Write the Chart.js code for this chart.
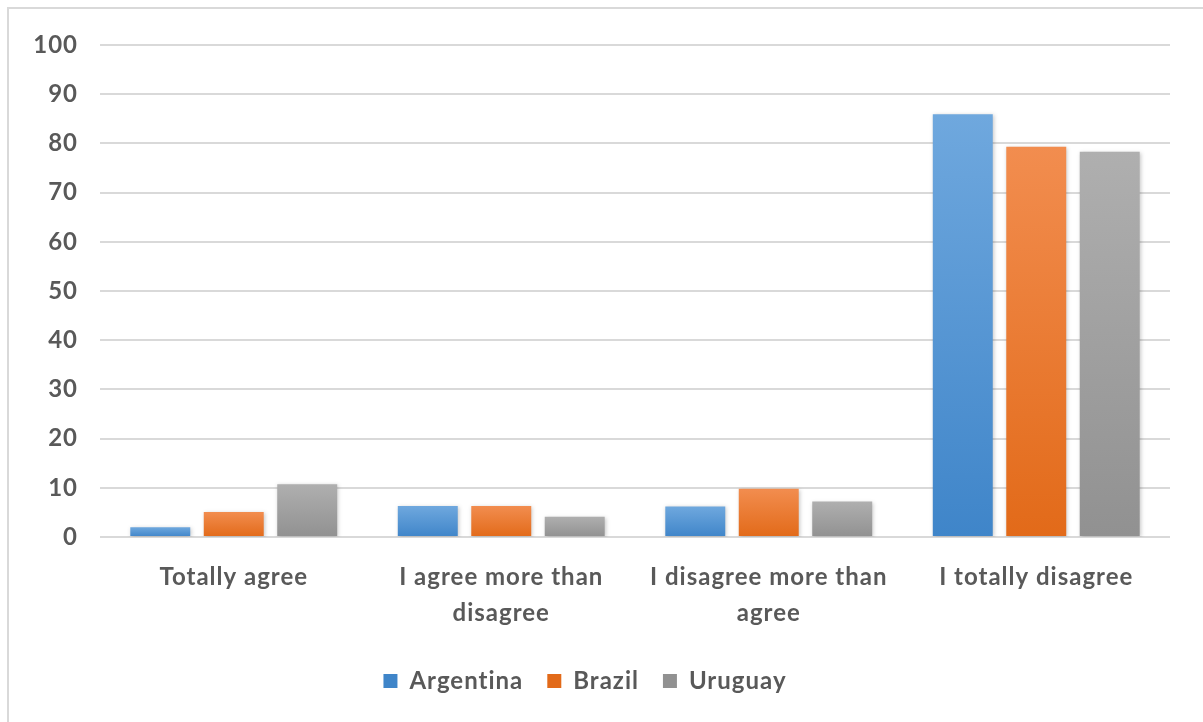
<!DOCTYPE html>
<html>
<head>
<meta charset="utf-8">
<script src="https://cdn.jsdelivr.net/npm/chart.js@4/dist/chart.umd.min.js"></script>
<style>
  html, body { margin: 0; padding: 0; background: #fff; overflow: hidden; }
  #frame { position: absolute; left: 7px; top: 7px; width: 1400px; height: 900px; border: 2px solid #d9d9d9; }
  #wrap { position: absolute; left: 0; top: 0; width: 1203px; height: 722px; }
</style>
</head>
<body>
<div id="frame"></div>
<div id="wrap"><canvas id="opinionChart" width="1203" height="722"></canvas></div>
<script>
const categories = [
  'Totally agree',
  ['I agree more than', 'disagree'],
  ['I disagree more than', 'agree'],
  'I totally disagree'
];
const argentina = [2, 6.3, 6.2, 85.9];
const brazil = [5.1, 6.3, 9.8, 79.3];
const uruguay = [10.7, 4.1, 7.2, 78.3];

const FONT = 'Lato, "Open Sans", sans-serif';
const TEXT = '#595959';

// vertical gradient per bar, like the Excel look
function barFill(top, bottom, flat) {
  return function(ctx) {
    const chart = ctx.chart;
    const y = chart.scales.y;
    if (ctx.type !== 'data' || !y) return flat;
    const y0 = y.getPixelForValue(ctx.raw);
    const y1 = y.getPixelForValue(0);
    if (!isFinite(y0) || !isFinite(y1) || y0 === y1) return flat;
    const g = chart.ctx.createLinearGradient(0, y0, 0, y1);
    g.addColorStop(0, top);
    g.addColorStop(1, bottom);
    return g;
  };
}

// Calibri-ish spacing: a bit of letter spacing on all canvas text
const spacing = {
  id: 'spacing',
  beforeUpdate(chart) { chart.ctx.letterSpacing = '1px'; },
  beforeRender(chart) { chart.ctx.letterSpacing = '1px'; }
};

const shadow = {
  id: 'barShadow',
  beforeDatasetsDraw(chart) {
    const c = chart.ctx;
    c.save();
    c.shadowColor = 'rgba(0,0,0,0.22)';
    c.shadowBlur = 4;
    c.shadowOffsetX = 1;
    c.shadowOffsetY = 1;
  },
  afterDatasetsDraw(chart) {
    chart.ctx.restore();
  }
};

new Chart(document.getElementById('opinionChart').getContext('2d'), {
  type: 'bar',
  data: {
    labels: categories,
    datasets: [
      { label: 'Argentina', data: argentina, backgroundColor: barFill('#6fa8de', '#3f85c9', '#5b9bd5') },
      { label: 'Brazil', data: brazil, backgroundColor: barFill('#f28d4f', '#e26a19', '#ed7d31') },
      { label: 'Uruguay', data: uruguay, backgroundColor: barFill('#afafaf', '#919191', '#a5a5a5') }
    ]
  },
  options: {
    responsive: false,
    animation: false,
    layout: { padding: { left: 0, right: 33, top: 45, bottom: 19 } },
    datasets: {
      bar: { categoryPercentage: 0.824, barPercentage: 0.816 }
    },
    plugins: {
      legend: {
        position: 'bottom',
        labels: {
          boxWidth: 14,
          boxHeight: 14,
          padding: 24,
          color: TEXT,
          font: { family: FONT, size: 24, weight: 'bold' }
        }
      },
      tooltip: { enabled: false }
    },
    scales: {
      x: {
        grid: { display: false },
        border: { display: false },
        ticks: {
          color: TEXT,
          padding: 14,
          maxRotation: 0,
          autoSkip: false,
          font: { family: FONT, size: 24, weight: 'bold', lineHeight: 1.5 }
        }
      },
      y: {
        min: 0,
        max: 100,
        ticks: {
          stepSize: 10,
          color: TEXT,
          padding: 22,
          font: { family: FONT, size: 24, weight: 'bold' }
        },
        grid: { color: '#d9d9d9', lineWidth: 2, drawTicks: false },
        border: { display: false },
        afterFit(scale) { scale.width = 100; }
      }
    }
  },
  plugins: [spacing, shadow]
});
</script>
</body>
</html>
